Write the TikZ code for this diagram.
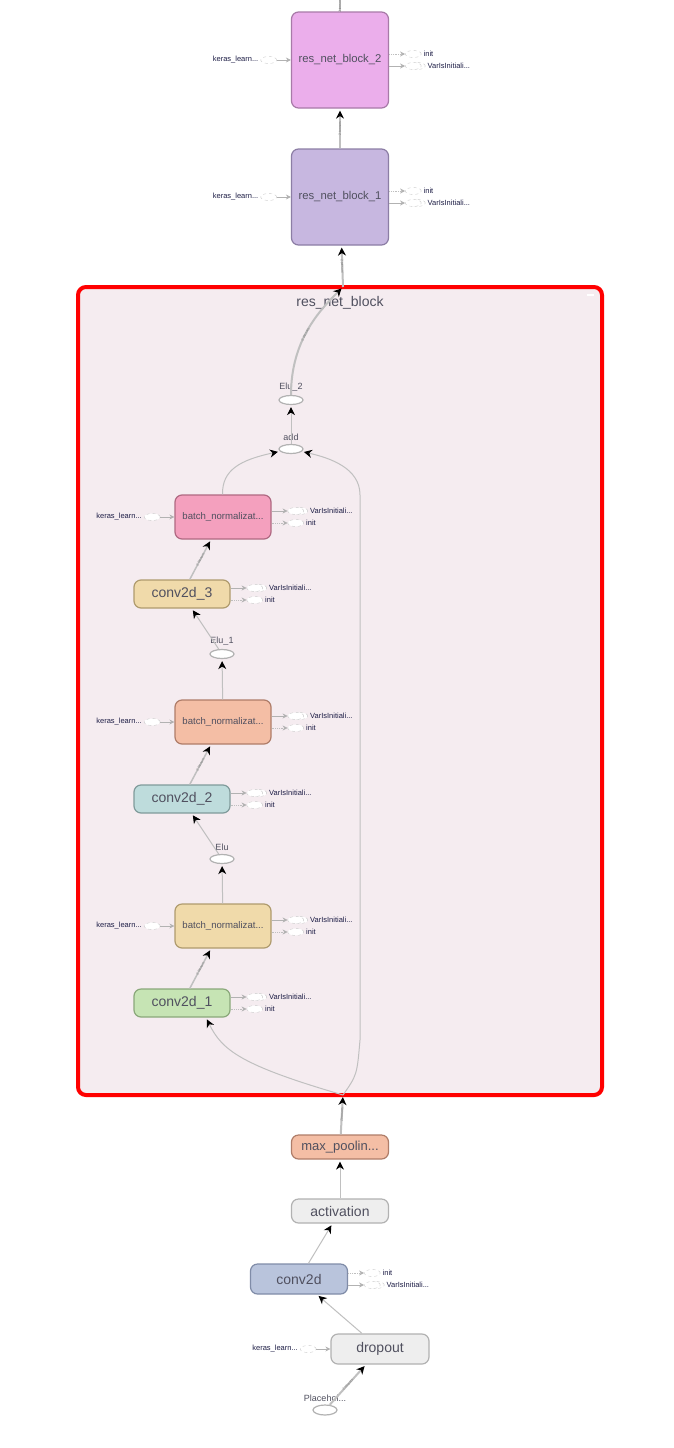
\documentclass[tikz,border=0pt]{standalone}
\usepackage{fontspec}
\setmainfont{Liberation Sans}
\usetikzlibrary{positioning,shapes.geometric,arrows.meta}

\definecolor{edgegray}{RGB}{192,192,192}
\definecolor{txtgray}{RGB}{80,80,95}
\definecolor{smalltxt}{RGB}{30,30,70}
\definecolor{clfill}{RGB}{245,236,240}
\definecolor{rbtwo}{RGB}{235,174,235}
\definecolor{rbtwoline}{RGB}{168,122,168}
\definecolor{rbone}{RGB}{199,183,224}
\definecolor{rboneline}{RGB}{140,126,165}
\definecolor{pinkbn}{RGB}{244,160,190}
\definecolor{pinkbnline}{RGB}{175,105,130}
\definecolor{salmonbn}{RGB}{244,190,165}
\definecolor{salmonline}{RGB}{175,125,105}
\definecolor{tanbn}{RGB}{240,218,170}
\definecolor{tanline}{RGB}{175,155,110}
\definecolor{cvtwo}{RGB}{190,220,220}
\definecolor{cvtwoline}{RGB}{128,155,155}
\definecolor{cvone}{RGB}{198,228,180}
\definecolor{cvoneline}{RGB}{138,168,122}
\definecolor{cvblue}{RGB}{185,196,220}
\definecolor{cvblueline}{RGB}{128,140,168}
\definecolor{opgray}{RGB}{238,238,238}

\tikzset{
  op/.style={draw, rounded corners=7pt, line width=1.2pt, text=txtgray,
    font=\fontsize{14}{16}\selectfont, inner sep=2pt},
  blk/.style={op, minimum width=97pt, minimum height=96pt,
    font=\fontsize{11.3}{13}\selectfont},
  bn/.style={op, minimum width=96pt, minimum height=44pt,
    font=\fontsize{9.6}{11}\selectfont},
  cv/.style={op, minimum width=96pt, minimum height=28pt},
  elu/.style={ellipse, draw=gray!60, fill=white, line width=1.2pt,
    minimum width=24pt, minimum height=9pt, inner sep=0pt},
  olbl/.style={font=\fontsize{9}{10}\selectfont, text=txtgray, inner sep=1pt},
  aux/.style={ellipse, draw=gray!40, dashed, fill=white,
    minimum width=16pt, minimum height=7pt, inner sep=0pt},
  smlbl/.style={font=\fontsize{7.5}{9}\selectfont, text=smalltxt, inner sep=1pt},
  wire/.style={draw=edgegray, line width=1pt},
  flow/.style={wire, -{Stealth[length=8pt,width=8pt,inset=2.5pt,color=black]},
    shorten >=2pt},
  fat/.style={line width=2pt},
  ctl/.style={draw=gray!50, line width=0.8pt, densely dotted,
    -{Stealth[length=5pt,width=5pt,color=gray!60]}},
  dat/.style={draw=gray!60, line width=0.8pt,
    -{Stealth[length=5pt,width=5pt,color=gray!60]}},
  tns/.style={sloped, font=\fontsize{3.5}{4}\selectfont, text=gray, inner sep=0.5pt}
}

\begin{document}
\begin{tikzpicture}[x=1pt,y=-1pt]

\fill[white] (0,0) rectangle (674,1448);
\useasboundingbox (0,0) rectangle (674,1448);

% res_net_block
\node[draw=red, line width=4pt, fill=clfill, rounded corners=8pt,
minimum width=524pt, minimum height=808pt, inner sep=0pt, outer sep=0pt]
(rnb) at (340,691) {};
\node[font=\fontsize{14}{16}\selectfont, text=txtgray]
(rnbt) at (340,303) {res\_net\_block};
\fill[white] (587,294) rectangle (594,296);
\coordinate (outT) at ([xshift=3pt]rnb.north);
\coordinate (inB) at ([xshift=3pt]rnb.south);

% Blocs du haut
\node[blk, fill=rbtwo, draw=rbtwoline] (rb2) at (340,60) {res\_net\_block\_2};
\node[blk, fill=rbone, draw=rboneline] (rb1) at (340,197) {res\_net\_block\_1};
\coordinate (topout) at (340,0);

% Dans le bloc
\node[elu] (elu2) at (291,400) {};
\node[olbl, above=2pt of elu2] (telu2) {Elu\_2};
\node[elu] (add) at (291,449) {};
\node[olbl, above=2pt of add] (tadd) {add};

\node[bn, fill=pinkbn, draw=pinkbnline] (bn3) at (223,517) {batch\_normalizat...};
\node[cv, fill=tanbn, draw=tanline] (cv3) at (182,594) {conv2d\_3};
\node[elu] (elu1) at (222,654) {};
\node[olbl, above=2pt of elu1] (telu1) {Elu\_1};

\node[bn, fill=salmonbn, draw=salmonline] (bn2) at (223,722) {batch\_normalizat...};
\node[cv, fill=cvtwo, draw=cvtwoline] (cv2) at (182,799) {conv2d\_2};
\node[elu] (elu0) at (222,859) {};
\node[olbl, above=2pt of elu0] (telu0) {Elu};

\node[bn, fill=tanbn, draw=tanline] (bn1) at (223,926) {batch\_normalizat...};
\node[cv, fill=cvone, draw=cvoneline] (cv1) at (182,1003) {conv2d\_1};

% Bas
\node[cv, fill=salmonbn, draw=salmonline, minimum width=97pt,
minimum height=24pt, font=\fontsize{13}{15}\selectfont]
(maxp) at (340,1147) {max\_poolin...};
\node[cv, fill=opgray, draw=gray!60, minimum width=97pt,
minimum height=24pt] (act) at (340,1211) {activation};
\node[cv, fill=cvblue, draw=cvblueline, minimum width=97pt,
minimum height=30pt] (conv) at (299,1279) {conv2d};
\node[cv, fill=opgray, draw=gray!60, minimum width=98pt,
minimum height=30pt] (drop) at (380,1349) {dropout};
\node[elu, minimum height=10pt] (ph) at (325,1410) {};
\node[olbl, above=2pt of ph] (tph) {Placehol...};

% Entrées keras
\foreach \n in {rb2,rb1,bn3,bn2,bn1,drop}
{
\node[aux, left=14pt of \n] (k\n) {};
\node[smlbl, left=1pt of k\n] (tk\n) {keras\_learn...};
\draw[dat] (k\n) -- (\n);
}

% Sorties init / VarIsInitiali...
\foreach \n/\di/\dv in {rb2/6/-6, rb1/6/-6, bn3/-6/6, cv3/-6/6,
bn2/-6/6, cv2/-6/6, bn1/-6/6, cv1/-6/6, conv/6/-6}
{
\node[aux, right=16pt of \n.east, yshift=\di] (i\n) {};
\node[smlbl, right=1pt of i\n] (ti\n) {init};
\node[aux, right=20pt of \n.east, yshift=\dv] (vb\n) {};
\node[aux, right=16pt of \n.east, yshift=\dv] (v\n) {};
\node[smlbl, right=1pt of vb\n] (tv\n) {VarIsInitiali...};
\draw[ctl] (\n.east |- i\n) -- (i\n);
\draw[dat] (\n.east |- v\n) -- (v\n);
}

% Flèches
\draw[wire, fat] (rb2) -- (topout) node[tns, pos=0.5] {2 tensors};
\draw[flow, fat] (rb1) -- (rb2) node[tns, midway] {2 tensors};
\draw[flow, fat] (outT) -- (rb1) node[tns, midway] {2 tensors};
\draw[flow, fat] (elu2) .. controls (291,340) and (320,310) .. (outT)
node[tns, pos=0.45] {2 tensors};
\draw[flow] (add) -- (elu2);
\draw[flow] (bn3) .. controls (222,470) and (240,460) .. (add);
\draw[flow] (inB) .. controls (357,1075) .. (360,1040) -- (360,495)
.. controls (360,468) and (330,458) .. (add);

\draw[flow, line width=1.5pt] (cv3) -- (bn3) node[tns, midway] {2 tensors};
\draw[flow] (elu1) -- (cv3);
\draw[flow] (bn2) -- (elu1);
\draw[flow, line width=1.5pt] (cv2) -- (bn2) node[tns, midway] {2 tensors};
\draw[flow] (elu0) -- (cv2);
\draw[flow] (bn1) -- (elu0);
\draw[flow, line width=1.5pt] (cv1) -- (bn1) node[tns, midway] {2 tensors};
\draw[flow] (inB) .. controls (240,1065) and (222,1050) .. ([xshift=24pt]cv1.south);

\draw[flow, fat] (maxp) -- (inB) node[tns, midway] {2 tensors};
\draw[flow] (act) -- (maxp);
\draw[flow] (conv) -- (act);
\draw[flow] (drop) -- (conv);
\draw[flow, fat] (ph) -- (drop) node[tns, midway] {2 tensors};

\end{tikzpicture}
\end{document}
